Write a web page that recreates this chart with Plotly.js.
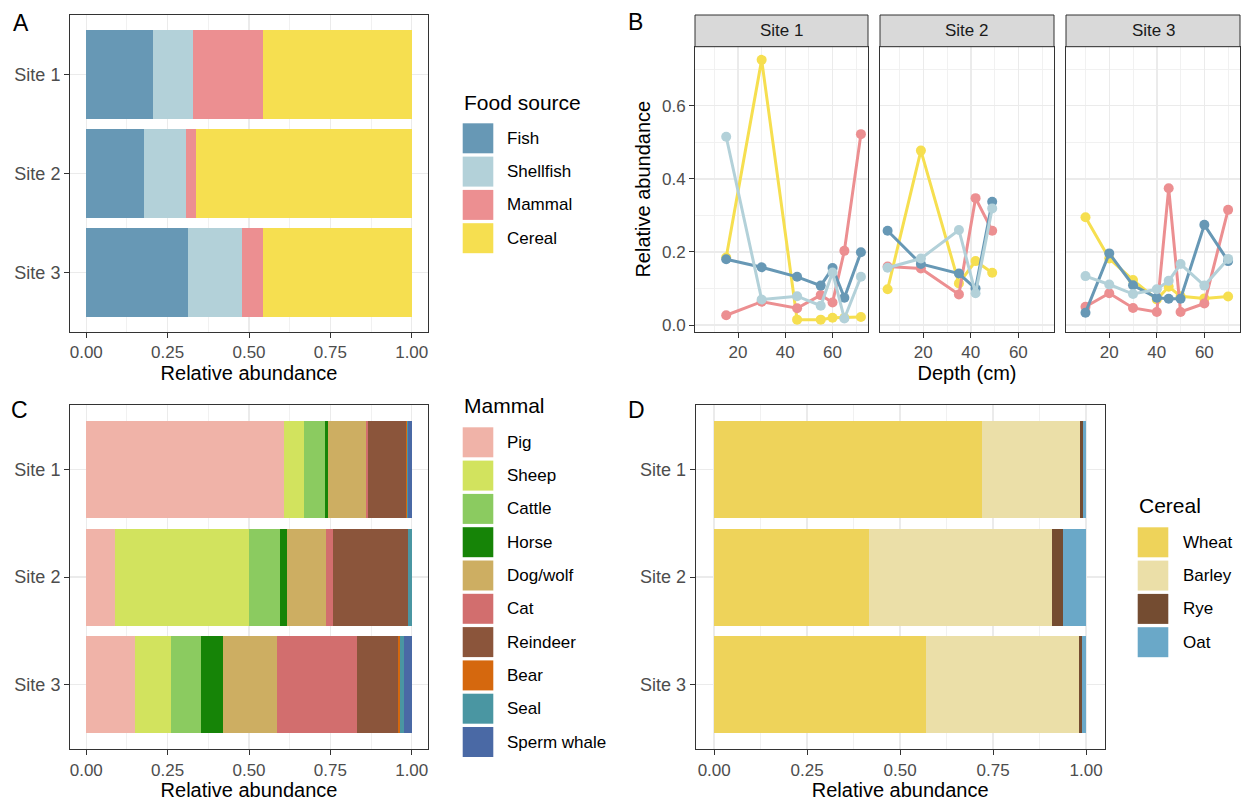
<!DOCTYPE html>
<html><head><meta charset="utf-8">
<script src="https://cdn.plot.ly/plotly-3.0.1.min.js"></script>
<style>html,body{margin:0;padding:0;background:#fff}</style>
</head><body><div id="chart" style="width:1246px;height:801px"></div>
<script>
// ---------------- data ----------------
const sites = ['Site 1', 'Site 2', 'Site 3'];

// Panel A: food source shares
const foodSources = ['Fish', 'Shellfish', 'Mammal', 'Cereal'];
const fishShare = [0.205, 0.177, 0.312];
const shellfishShare = [0.122, 0.128, 0.166];
const mammalShare = [0.217, 0.033, 0.066];
const cerealShare = [0.456, 0.662, 0.456];
const foodColors = ['#6798B5', '#B3D1D9', '#EC8F91', '#F6DF50'];

// Panel B: relative abundance by depth
const depthSite1 = [15, 30, 45, 55, 60, 65, 72];
const fishSite1 = [0.180, 0.158, 0.132, 0.108, 0.156, 0.075, 0.199];
const shellfishSite1 = [0.515, 0.070, 0.079, 0.053, 0.144, 0.018, 0.132];
const mammalSite1 = [0.027, 0.064, 0.046, 0.082, 0.062, 0.203, 0.522];
const cerealSite1 = [0.185, 0.725, 0.015, 0.015, 0.020, 0.020, 0.022];

const depthSite2 = [5, 19, 35, 42, 49];
const fishSite2 = [0.258, 0.167, 0.141, 0.100, 0.337];
const shellfishSite2 = [0.157, 0.182, 0.260, 0.087, 0.319];
const mammalSite2 = [0.160, 0.155, 0.084, 0.347, 0.258];
const cerealSite2 = [0.098, 0.477, 0.114, 0.175, 0.143];

const depthSite3 = [10, 20, 30, 40, 45, 50, 60, 70];
const fishSite3 = [0.034, 0.196, 0.109, 0.075, 0.072, 0.072, 0.274, 0.175];
const shellfishSite3 = [0.134, 0.111, 0.085, 0.098, 0.121, 0.167, 0.108, 0.181];
const mammalSite3 = [0.050, 0.087, 0.047, 0.036, 0.374, 0.036, 0.059, 0.315];
const cerealSite3 = [0.295, 0.182, 0.123, 0.070, 0.105, 0.079, 0.073, 0.078];

// Panel C: mammal shares
const mammals = ['Pig', 'Sheep', 'Cattle', 'Horse', 'Dog/wolf', 'Cat', 'Reindeer', 'Bear', 'Seal', 'Sperm whale'];
const pig = [0.609, 0.087, 0.150];
const sheep = [0.059, 0.412, 0.109];
const cattle = [0.065, 0.097, 0.094];
const horse = [0.009, 0.020, 0.066];
const dogWolf = [0.119, 0.122, 0.167];
const cat = [0.005, 0.020, 0.246];
const reindeer = [0.117, 0.231, 0.125];
const bear = [0.002, 0.000, 0.008];
const seal = [0.002, 0.011, 0.011];
const spermWhale = [0.013, 0.000, 0.024];
const mammalColors = ['#F0B3A8', '#D2E35E', '#8BCB60', '#168407', '#CDAE62', '#D26E6E', '#8B553B', '#D5680E', '#4A96A2', '#4A69A5'];

// Panel D: cereal shares
const cereals = ['Wheat', 'Barley', 'Rye', 'Oat'];
const wheat = [0.719, 0.417, 0.570];
const barley = [0.264, 0.492, 0.410];
const rye = [0.009, 0.030, 0.009];
const oat = [0.008, 0.061, 0.011];
const cerealColors = ['#EED35A', '#EBDFA8', '#744C31', '#6AA8C8'];

// ---------------- layout helpers ----------------
const W = 1246, H = 801;
const fx = p => p / W;
const fy = p => 1 - p / H;
const FONT = 'Liberation Sans, Arial, sans-serif';

const axBase = {
  showline: true, mirror: true, linecolor: '#333333', linewidth: 1,
  ticks: 'outside', ticklen: 5, tickwidth: 1, tickcolor: '#333333',
  showgrid: true, gridcolor: '#EBEBEB', gridwidth: 1.5, zeroline: false,
  tickfont: {family: FONT, size: 17, color: '#4D4D4D'}, fixedrange: true
};
const titleFont = {family: FONT, size: 20, color: '#000000'};

function shareAxis(domain, anchor, withTitle) {
  return Object.assign({}, axBase, {
    domain: domain, anchor: anchor, range: [-0.05, 1.05], tick0: 0, dtick: 0.25,
    tickformat: '.2f',
    minor: {dtick: 0.125, showgrid: true, gridcolor: '#F0F0F0', gridwidth: 0.9},
    title: withTitle ? {text: 'Relative abundance', font: titleFont, standoff: 3} : undefined
  });
}
function siteAxis(domain, anchor) {
  return Object.assign({}, axBase, {
    domain: domain, anchor: anchor, type: 'category', range: [2.6, -0.6],
    categoryorder: 'array', categoryarray: sites,
    tickfont: {family: FONT, size: 18, color: '#4D4D4D'}
  });
}

const traces = [];

// Panel A bars
const foodData = [fishShare, shellfishShare, mammalShare, cerealShare];
foodSources.forEach((name, i) => {
  traces.push({type: 'bar', orientation: 'h', name: name, y: sites, x: foodData[i],
    marker: {color: foodColors[i], line: {width: 0}}, xaxis: 'x', yaxis: 'y',
    showlegend: false, hoverinfo: 'x+name'});
});

// Panel B lines (draw order chosen so overlaps resemble reference)
const depthBySite = [depthSite1, depthSite2, depthSite3];
const seriesBySite = {
  Fish: [fishSite1, fishSite2, fishSite3],
  Shellfish: [shellfishSite1, shellfishSite2, shellfishSite3],
  Mammal: [mammalSite1, mammalSite2, mammalSite3],
  Cereal: [cerealSite1, cerealSite2, cerealSite3]
};
const drawOrder = ['Cereal', 'Mammal', 'Fish', 'Shellfish'];
for (let s = 0; s < 3; s++) {
  drawOrder.forEach(name => {
    const ci = foodSources.indexOf(name);
    traces.push({type: 'scatter', mode: 'lines+markers', name: name,
      x: depthBySite[s], y: seriesBySite[name][s],
      line: {color: foodColors[ci], width: 3},
      marker: {color: foodColors[ci], size: 10},
      xaxis: 'x' + (s + 2), yaxis: 'y' + (s + 2), showlegend: false});
  });
}

// Panel C bars
const mammalData = [pig, sheep, cattle, horse, dogWolf, cat, reindeer, bear, seal, spermWhale];
mammals.forEach((name, i) => {
  traces.push({type: 'bar', orientation: 'h', name: name, y: sites, x: mammalData[i],
    marker: {color: mammalColors[i], line: {width: 0}}, xaxis: 'x5', yaxis: 'y5',
    showlegend: false, hoverinfo: 'x+name'});
});

// Panel D bars
const cerealData = [wheat, barley, rye, oat];
cereals.forEach((name, i) => {
  traces.push({type: 'bar', orientation: 'h', name: name, y: sites, x: cerealData[i],
    marker: {color: cerealColors[i], line: {width: 0}}, xaxis: 'x6', yaxis: 'y6',
    showlegend: false, hoverinfo: 'x+name'});
});

// ---------------- geometry ----------------
const boxA = {l: 70, r: 428, t: 15, b: 332};
const boxC = {l: 70, r: 428, t: 405, b: 749.3};
const boxD = {l: 695.6, r: 1104.7, t: 405, b: 749.3};
const facetL = [695, 880, 1066], facetR = [868, 1054, 1240];
const facetT = 46.7, facetB = 331.7, stripT = 15;

const layout = {
  width: W, height: H, margin: {l: 0, r: 0, t: 0, b: 0},
  paper_bgcolor: '#ffffff', plot_bgcolor: '#ffffff',
  font: {family: FONT, color: '#000000'},
  barmode: 'stack', bargap: 0.1, showlegend: false,
  xaxis: shareAxis([fx(boxA.l), fx(boxA.r)], 'y', true),
  yaxis: siteAxis([fy(boxA.b), fy(boxA.t)], 'x'),
  xaxis5: shareAxis([fx(boxC.l), fx(boxC.r)], 'y5', true),
  yaxis5: siteAxis([fy(boxC.b), fy(boxC.t)], 'x5'),
  xaxis6: shareAxis([fx(boxD.l), fx(boxD.r)], 'y6', true),
  yaxis6: siteAxis([fy(boxD.b), fy(boxD.t)], 'x6'),
  shapes: [], annotations: []
};

for (let s = 0; s < 3; s++) {
  const xa = 'xaxis' + (s + 2), ya = 'yaxis' + (s + 2);
  layout[xa] = Object.assign({}, axBase, {
    domain: [fx(facetL[s]), fx(facetR[s])], anchor: 'y' + (s + 2),
    range: [1.8, 75], tick0: 0, dtick: 20, tickvals: [20, 40, 60],
    minor: {tickvals: [10, 30, 50, 70], showgrid: true, gridcolor: '#F0F0F0', gridwidth: 0.9},
    title: s === 1 ? {text: 'Depth (cm)', font: titleFont, standoff: 3} : undefined
  });
  layout[ya] = Object.assign({}, axBase, {
    domain: [fy(facetB), fy(facetT)], anchor: 'x' + (s + 2),
    range: [-0.018, 0.761], tick0: 0, dtick: 0.2, tickformat: '.1f',
    minor: {dtick: 0.1, showgrid: true, gridcolor: '#F0F0F0', gridwidth: 0.9},
    showticklabels: s === 0, ticks: s === 0 ? 'outside' : '',
    title: s === 0 ? {text: 'Relative abundance', font: titleFont, standoff: 5} : undefined
  });
  // strip
  layout.shapes.push({type: 'rect', xref: 'paper', yref: 'paper',
    x0: fx(facetL[s]), x1: fx(facetR[s]), y0: fy(facetT), y1: fy(stripT),
    fillcolor: '#D9D9D9', line: {color: '#333333', width: 1}, layer: 'above'});
  layout.annotations.push({xref: 'paper', yref: 'paper',
    x: fx((facetL[s] + facetR[s]) / 2), y: fy((facetT + stripT) / 2),
    text: sites[s], showarrow: false, xanchor: 'center', yanchor: 'middle',
    font: {family: FONT, size: 17, color: '#1A1A1A'}});
}

// manual legends (ggplot-style large keys)
function addLegend(title, names, colors, keyX, titleY, firstKeyY, labelX) {
  layout.annotations.push({xref: 'paper', yref: 'paper', x: fx(keyX - 1), y: fy(titleY),
    text: title, showarrow: false, xanchor: 'left', yanchor: 'middle',
    font: {family: FONT, size: 21, color: '#000000'}});
  names.forEach((n, i) => {
    const top = firstKeyY + i * 33.3;
    layout.shapes.push({type: 'rect', xref: 'paper', yref: 'paper',
      x0: fx(keyX), x1: fx(keyX + 30.6), y0: fy(top + 30), y1: fy(top),
      fillcolor: colors[i], line: {width: 0}});
    layout.annotations.push({xref: 'paper', yref: 'paper', x: fx(labelX), y: fy(top + 15),
      text: n, showarrow: false, xanchor: 'left', yanchor: 'middle',
      font: {family: FONT, size: 17, color: '#000000'}});
  });
}
addLegend('Food source', foodSources, foodColors, 462.7, 102.7, 123.3, 505);
addLegend('Mammal', mammals, mammalColors, 462.7, 405, 427.3, 505);
addLegend('Cereal', cereals, cerealColors, 1137.7, 505, 527.3, 1181);

// panel tags
[['A', 21, 23], ['B', 635, 22.5], ['C', 20, 410], ['D', 636, 410]].forEach(t => {
  layout.annotations.push({xref: 'paper', yref: 'paper', x: fx(t[1]), y: fy(t[2]),
    text: t[0], showarrow: false, xanchor: 'center', yanchor: 'middle',
    font: {family: FONT, size: 23, color: '#000000'}});
});

Plotly.newPlot('chart', traces, layout, {staticPlot: true, displayModeBar: false});
</script></body></html>
